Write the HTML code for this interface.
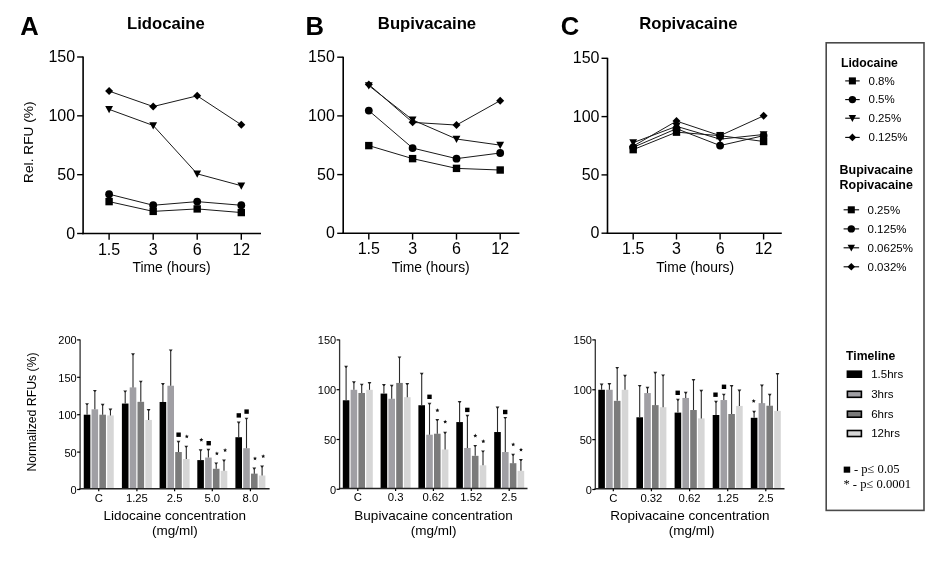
<!DOCTYPE html>
<html><head><meta charset="utf-8"><style>
html,body{margin:0;padding:0;background:#fff;width:945px;height:570px;overflow:hidden}
svg{display:block;will-change:transform}
</style></head><body>
<svg width="945" height="570" viewBox="0 0 945 570">
<rect width="945" height="570" fill="#fff"/>
<line x1="83.10" y1="56.50" x2="83.10" y2="234.30" stroke="#000" stroke-width="1.6"/>
<line x1="82.30" y1="233.50" x2="261.00" y2="233.50" stroke="#000" stroke-width="1.6"/>
<line x1="77.10" y1="233.50" x2="83.10" y2="233.50" stroke="#000" stroke-width="1.4"/>
<text x="75.10" y="238.50" font-size="16" text-anchor="end" font-weight="normal" fill="#000" font-family='"Liberation Sans", sans-serif' >0</text>
<line x1="77.10" y1="174.67" x2="83.10" y2="174.67" stroke="#000" stroke-width="1.4"/>
<text x="75.10" y="179.67" font-size="16" text-anchor="end" font-weight="normal" fill="#000" font-family='"Liberation Sans", sans-serif' >50</text>
<line x1="77.10" y1="115.83" x2="83.10" y2="115.83" stroke="#000" stroke-width="1.4"/>
<text x="75.10" y="120.83" font-size="16" text-anchor="end" font-weight="normal" fill="#000" font-family='"Liberation Sans", sans-serif' >100</text>
<line x1="77.10" y1="57.00" x2="83.10" y2="57.00" stroke="#000" stroke-width="1.4"/>
<text x="75.10" y="62.00" font-size="16" text-anchor="end" font-weight="normal" fill="#000" font-family='"Liberation Sans", sans-serif' >150</text>
<line x1="109.10" y1="233.50" x2="109.10" y2="239.80" stroke="#000" stroke-width="1.4"/>
<text x="109.10" y="254.50" font-size="16" text-anchor="middle" font-weight="normal" fill="#000" font-family='"Liberation Sans", sans-serif' >1.5</text>
<line x1="153.20" y1="233.50" x2="153.20" y2="239.80" stroke="#000" stroke-width="1.4"/>
<text x="153.20" y="254.50" font-size="16" text-anchor="middle" font-weight="normal" fill="#000" font-family='"Liberation Sans", sans-serif' >3</text>
<line x1="197.20" y1="233.50" x2="197.20" y2="239.80" stroke="#000" stroke-width="1.4"/>
<text x="197.20" y="254.50" font-size="16" text-anchor="middle" font-weight="normal" fill="#000" font-family='"Liberation Sans", sans-serif' >6</text>
<line x1="241.30" y1="233.50" x2="241.30" y2="239.80" stroke="#000" stroke-width="1.4"/>
<text x="241.30" y="254.50" font-size="16" text-anchor="middle" font-weight="normal" fill="#000" font-family='"Liberation Sans", sans-serif' >12</text>
<text x="171.55" y="272.20" font-size="13.85" text-anchor="middle" font-weight="normal" fill="#000" font-family='"Liberation Sans", sans-serif' >Time (hours)</text>
<polyline points="109.10,201.61 153.20,211.38 197.20,208.91 241.30,212.56" fill="none" stroke="#1a1a1a" stroke-width="1.0"/>
<polyline points="109.10,194.20 153.20,205.26 197.20,201.61 241.30,205.26" fill="none" stroke="#1a1a1a" stroke-width="1.0"/>
<polyline points="109.10,109.36 153.20,125.48 197.20,173.84 241.30,185.73" fill="none" stroke="#1a1a1a" stroke-width="1.0"/>
<polyline points="109.10,91.12 153.20,106.54 197.20,95.83 241.30,124.78" fill="none" stroke="#1a1a1a" stroke-width="1.0"/>
<rect x="105.40" y="197.91" width="7.40" height="7.40" fill="#000"/>
<rect x="149.50" y="207.68" width="7.40" height="7.40" fill="#000"/>
<rect x="193.50" y="205.21" width="7.40" height="7.40" fill="#000"/>
<rect x="237.60" y="208.86" width="7.40" height="7.40" fill="#000"/>
<circle cx="109.10" cy="194.20" r="3.90" fill="#000"/>
<circle cx="153.20" cy="205.26" r="3.90" fill="#000"/>
<circle cx="197.20" cy="201.61" r="3.90" fill="#000"/>
<circle cx="241.30" cy="205.26" r="3.90" fill="#000"/>
<path d="M105.20,106.06 L113.00,106.06 L109.10,113.26 Z" fill="#000"/>
<path d="M149.30,122.18 L157.10,122.18 L153.20,129.38 Z" fill="#000"/>
<path d="M193.30,170.54 L201.10,170.54 L197.20,177.74 Z" fill="#000"/>
<path d="M237.40,182.43 L245.20,182.43 L241.30,189.63 Z" fill="#000"/>
<path d="M109.10,87.12 L113.10,91.12 L109.10,95.12 L105.10,91.12 Z" fill="#000"/>
<path d="M153.20,102.54 L157.20,106.54 L153.20,110.54 L149.20,106.54 Z" fill="#000"/>
<path d="M197.20,91.83 L201.20,95.83 L197.20,99.83 L193.20,95.83 Z" fill="#000"/>
<path d="M241.30,120.78 L245.30,124.78 L241.30,128.78 L237.30,124.78 Z" fill="#000"/>
<line x1="343.20" y1="56.70" x2="343.20" y2="234.10" stroke="#000" stroke-width="1.6"/>
<line x1="342.40" y1="233.30" x2="519.40" y2="233.30" stroke="#000" stroke-width="1.6"/>
<line x1="337.20" y1="233.30" x2="343.20" y2="233.30" stroke="#000" stroke-width="1.4"/>
<text x="334.80" y="238.30" font-size="16" text-anchor="end" font-weight="normal" fill="#000" font-family='"Liberation Sans", sans-serif' >0</text>
<line x1="337.20" y1="174.60" x2="343.20" y2="174.60" stroke="#000" stroke-width="1.4"/>
<text x="334.80" y="179.60" font-size="16" text-anchor="end" font-weight="normal" fill="#000" font-family='"Liberation Sans", sans-serif' >50</text>
<line x1="337.20" y1="115.90" x2="343.20" y2="115.90" stroke="#000" stroke-width="1.4"/>
<text x="334.80" y="120.90" font-size="16" text-anchor="end" font-weight="normal" fill="#000" font-family='"Liberation Sans", sans-serif' >100</text>
<line x1="337.20" y1="57.20" x2="343.20" y2="57.20" stroke="#000" stroke-width="1.4"/>
<text x="334.80" y="62.20" font-size="16" text-anchor="end" font-weight="normal" fill="#000" font-family='"Liberation Sans", sans-serif' >150</text>
<line x1="368.80" y1="233.30" x2="368.80" y2="239.60" stroke="#000" stroke-width="1.4"/>
<text x="368.80" y="254.30" font-size="16" text-anchor="middle" font-weight="normal" fill="#000" font-family='"Liberation Sans", sans-serif' >1.5</text>
<line x1="412.60" y1="233.30" x2="412.60" y2="239.60" stroke="#000" stroke-width="1.4"/>
<text x="412.60" y="254.30" font-size="16" text-anchor="middle" font-weight="normal" fill="#000" font-family='"Liberation Sans", sans-serif' >3</text>
<line x1="456.50" y1="233.30" x2="456.50" y2="239.60" stroke="#000" stroke-width="1.4"/>
<text x="456.50" y="254.30" font-size="16" text-anchor="middle" font-weight="normal" fill="#000" font-family='"Liberation Sans", sans-serif' >6</text>
<line x1="500.20" y1="233.30" x2="500.20" y2="239.60" stroke="#000" stroke-width="1.4"/>
<text x="500.20" y="254.30" font-size="16" text-anchor="middle" font-weight="normal" fill="#000" font-family='"Liberation Sans", sans-serif' >12</text>
<text x="430.75" y="272.00" font-size="13.85" text-anchor="middle" font-weight="normal" fill="#000" font-family='"Liberation Sans", sans-serif' >Time (hours)</text>
<polyline points="368.80,145.60 412.60,158.63 456.50,168.38 500.20,170.02" fill="none" stroke="#1a1a1a" stroke-width="1.0"/>
<polyline points="368.80,110.62 412.60,148.07 456.50,158.63 500.20,153.00" fill="none" stroke="#1a1a1a" stroke-width="1.0"/>
<polyline points="368.80,85.61 412.60,119.89 456.50,139.03 500.20,145.13" fill="none" stroke="#1a1a1a" stroke-width="1.0"/>
<polyline points="368.80,84.44 412.60,122.36 456.50,125.06 500.20,100.64" fill="none" stroke="#1a1a1a" stroke-width="1.0"/>
<rect x="365.10" y="141.90" width="7.40" height="7.40" fill="#000"/>
<rect x="408.90" y="154.93" width="7.40" height="7.40" fill="#000"/>
<rect x="452.80" y="164.68" width="7.40" height="7.40" fill="#000"/>
<rect x="496.50" y="166.32" width="7.40" height="7.40" fill="#000"/>
<circle cx="368.80" cy="110.62" r="3.90" fill="#000"/>
<circle cx="412.60" cy="148.07" r="3.90" fill="#000"/>
<circle cx="456.50" cy="158.63" r="3.90" fill="#000"/>
<circle cx="500.20" cy="153.00" r="3.90" fill="#000"/>
<path d="M364.90,82.31 L372.70,82.31 L368.80,89.51 Z" fill="#000"/>
<path d="M408.70,116.59 L416.50,116.59 L412.60,123.79 Z" fill="#000"/>
<path d="M452.60,135.73 L460.40,135.73 L456.50,142.93 Z" fill="#000"/>
<path d="M496.30,141.83 L504.10,141.83 L500.20,149.03 Z" fill="#000"/>
<path d="M368.80,80.44 L372.80,84.44 L368.80,88.44 L364.80,84.44 Z" fill="#000"/>
<path d="M412.60,118.36 L416.60,122.36 L412.60,126.36 L408.60,122.36 Z" fill="#000"/>
<path d="M456.50,121.06 L460.50,125.06 L456.50,129.06 L452.50,125.06 Z" fill="#000"/>
<path d="M500.20,96.64 L504.20,100.64 L500.20,104.64 L496.20,100.64 Z" fill="#000"/>
<line x1="607.50" y1="57.80" x2="607.50" y2="234.00" stroke="#000" stroke-width="1.6"/>
<line x1="606.70" y1="233.20" x2="781.80" y2="233.20" stroke="#000" stroke-width="1.6"/>
<line x1="601.50" y1="233.20" x2="607.50" y2="233.20" stroke="#000" stroke-width="1.4"/>
<text x="599.50" y="238.20" font-size="16" text-anchor="end" font-weight="normal" fill="#000" font-family='"Liberation Sans", sans-serif' >0</text>
<line x1="601.50" y1="174.90" x2="607.50" y2="174.90" stroke="#000" stroke-width="1.4"/>
<text x="599.50" y="179.90" font-size="16" text-anchor="end" font-weight="normal" fill="#000" font-family='"Liberation Sans", sans-serif' >50</text>
<line x1="601.50" y1="116.60" x2="607.50" y2="116.60" stroke="#000" stroke-width="1.4"/>
<text x="599.50" y="121.60" font-size="16" text-anchor="end" font-weight="normal" fill="#000" font-family='"Liberation Sans", sans-serif' >100</text>
<line x1="601.50" y1="58.30" x2="607.50" y2="58.30" stroke="#000" stroke-width="1.4"/>
<text x="599.50" y="63.30" font-size="16" text-anchor="end" font-weight="normal" fill="#000" font-family='"Liberation Sans", sans-serif' >150</text>
<line x1="633.20" y1="233.20" x2="633.20" y2="239.50" stroke="#000" stroke-width="1.4"/>
<text x="633.20" y="254.20" font-size="16" text-anchor="middle" font-weight="normal" fill="#000" font-family='"Liberation Sans", sans-serif' >1.5</text>
<line x1="676.50" y1="233.20" x2="676.50" y2="239.50" stroke="#000" stroke-width="1.4"/>
<text x="676.50" y="254.20" font-size="16" text-anchor="middle" font-weight="normal" fill="#000" font-family='"Liberation Sans", sans-serif' >3</text>
<line x1="720.10" y1="233.20" x2="720.10" y2="239.50" stroke="#000" stroke-width="1.4"/>
<text x="720.10" y="254.20" font-size="16" text-anchor="middle" font-weight="normal" fill="#000" font-family='"Liberation Sans", sans-serif' >6</text>
<line x1="763.60" y1="233.20" x2="763.60" y2="239.50" stroke="#000" stroke-width="1.4"/>
<text x="763.60" y="254.20" font-size="16" text-anchor="middle" font-weight="normal" fill="#000" font-family='"Liberation Sans", sans-serif' >12</text>
<text x="695.15" y="271.90" font-size="13.85" text-anchor="middle" font-weight="normal" fill="#000" font-family='"Liberation Sans", sans-serif' >Time (hours)</text>
<polyline points="633.20,149.65 676.50,132.16 720.10,135.66 763.60,141.49" fill="none" stroke="#1a1a1a" stroke-width="1.0"/>
<polyline points="633.20,147.32 676.50,128.66 720.10,145.57 763.60,135.66" fill="none" stroke="#1a1a1a" stroke-width="1.0"/>
<polyline points="633.20,142.65 676.50,126.33 720.10,139.15 763.60,134.49" fill="none" stroke="#1a1a1a" stroke-width="1.0"/>
<polyline points="633.20,146.15 676.50,121.08 720.10,135.66 763.60,115.83" fill="none" stroke="#1a1a1a" stroke-width="1.0"/>
<rect x="629.50" y="145.95" width="7.40" height="7.40" fill="#000"/>
<rect x="672.80" y="128.46" width="7.40" height="7.40" fill="#000"/>
<rect x="716.40" y="131.96" width="7.40" height="7.40" fill="#000"/>
<rect x="759.90" y="137.79" width="7.40" height="7.40" fill="#000"/>
<circle cx="633.20" cy="147.32" r="3.90" fill="#000"/>
<circle cx="676.50" cy="128.66" r="3.90" fill="#000"/>
<circle cx="720.10" cy="145.57" r="3.90" fill="#000"/>
<circle cx="763.60" cy="135.66" r="3.90" fill="#000"/>
<path d="M629.30,139.35 L637.10,139.35 L633.20,146.55 Z" fill="#000"/>
<path d="M672.60,123.03 L680.40,123.03 L676.50,130.23 Z" fill="#000"/>
<path d="M716.20,135.85 L724.00,135.85 L720.10,143.05 Z" fill="#000"/>
<path d="M759.70,131.19 L767.50,131.19 L763.60,138.39 Z" fill="#000"/>
<path d="M633.20,142.15 L637.20,146.15 L633.20,150.15 L629.20,146.15 Z" fill="#000"/>
<path d="M676.50,117.08 L680.50,121.08 L676.50,125.08 L672.50,121.08 Z" fill="#000"/>
<path d="M720.10,131.66 L724.10,135.66 L720.10,139.66 L716.10,135.66 Z" fill="#000"/>
<path d="M763.60,111.83 L767.60,115.83 L763.60,119.83 L759.60,115.83 Z" fill="#000"/>
<text transform="translate(33.4,142.2) rotate(-90)" font-size="13.7" text-anchor="middle" font-family='"Liberation Sans", sans-serif'>Rel. RFU (%)</text>
<text x="20.20" y="34.50" font-size="25.6" text-anchor="start" font-weight="bold" fill="#000" font-family='"Liberation Sans", sans-serif' >A</text>
<text x="305.60" y="34.50" font-size="25.6" text-anchor="start" font-weight="bold" fill="#000" font-family='"Liberation Sans", sans-serif' >B</text>
<text x="560.80" y="34.70" font-size="25.6" text-anchor="start" font-weight="bold" fill="#000" font-family='"Liberation Sans", sans-serif' >C</text>
<text x="165.90" y="28.50" font-size="16.7" text-anchor="middle" font-weight="bold" fill="#000" font-family='"Liberation Sans", sans-serif' >Lidocaine</text>
<text x="427.00" y="28.50" font-size="16.7" text-anchor="middle" font-weight="bold" fill="#000" font-family='"Liberation Sans", sans-serif' >Bupivacaine</text>
<text x="688.30" y="28.50" font-size="16.7" text-anchor="middle" font-weight="bold" fill="#000" font-family='"Liberation Sans", sans-serif' >Ropivacaine</text>
<rect x="83.75" y="414.70" width="6.60" height="74.00" fill="#000000"/>
<line x1="87.05" y1="403.95" x2="87.05" y2="414.70" stroke="#2a2a2a" stroke-width="1.1"/>
<path d="M85.15,403.15 L88.95,403.15 L87.65,405.05 L86.45,405.05 Z" fill="#222"/>
<rect x="91.55" y="409.31" width="6.60" height="79.39" fill="#a09fa4"/>
<line x1="94.85" y1="390.72" x2="94.85" y2="409.31" stroke="#2a2a2a" stroke-width="1.1"/>
<path d="M92.95,389.92 L96.75,389.92 L95.45,391.82 L94.25,391.82 Z" fill="#222"/>
<rect x="99.35" y="414.70" width="6.60" height="74.00" fill="#7b7b7b"/>
<line x1="102.65" y1="404.63" x2="102.65" y2="414.70" stroke="#2a2a2a" stroke-width="1.1"/>
<path d="M100.75,403.83 L104.55,403.83 L103.25,405.73 L102.05,405.73 Z" fill="#222"/>
<rect x="107.15" y="415.45" width="6.60" height="73.25" fill="#d6d6d6"/>
<line x1="110.45" y1="409.34" x2="110.45" y2="415.45" stroke="#2a2a2a" stroke-width="1.1"/>
<path d="M108.55,408.54 L112.35,408.54 L111.05,410.44 L109.85,410.44 Z" fill="#222"/>
<rect x="121.90" y="403.55" width="6.60" height="85.15" fill="#000000"/>
<line x1="125.20" y1="391.24" x2="125.20" y2="403.55" stroke="#2a2a2a" stroke-width="1.1"/>
<path d="M123.30,390.44 L127.10,390.44 L125.80,392.34 L124.60,392.34 Z" fill="#222"/>
<rect x="129.70" y="387.40" width="6.60" height="101.30" fill="#a09fa4"/>
<line x1="133.00" y1="354.14" x2="133.00" y2="387.40" stroke="#2a2a2a" stroke-width="1.1"/>
<path d="M131.10,353.34 L134.90,353.34 L133.60,355.24 L132.40,355.24 Z" fill="#222"/>
<rect x="137.50" y="401.83" width="6.60" height="86.87" fill="#7b7b7b"/>
<line x1="140.80" y1="381.44" x2="140.80" y2="401.83" stroke="#2a2a2a" stroke-width="1.1"/>
<path d="M138.90,380.64 L142.70,380.64 L141.40,382.54 L140.20,382.54 Z" fill="#222"/>
<rect x="145.30" y="419.94" width="6.60" height="68.76" fill="#d6d6d6"/>
<line x1="148.60" y1="409.86" x2="148.60" y2="419.94" stroke="#2a2a2a" stroke-width="1.1"/>
<path d="M146.70,409.06 L150.50,409.06 L149.20,410.96 L148.00,410.96 Z" fill="#222"/>
<rect x="159.60" y="401.98" width="6.60" height="86.72" fill="#000000"/>
<line x1="162.90" y1="383.91" x2="162.90" y2="401.98" stroke="#2a2a2a" stroke-width="1.1"/>
<path d="M161.00,383.11 L164.80,383.11 L163.50,385.01 L162.30,385.01 Z" fill="#222"/>
<rect x="167.40" y="385.75" width="6.60" height="102.95" fill="#a09fa4"/>
<line x1="170.70" y1="350.25" x2="170.70" y2="385.75" stroke="#2a2a2a" stroke-width="1.1"/>
<path d="M168.80,349.45 L172.60,349.45 L171.30,351.35 L170.10,351.35 Z" fill="#222"/>
<rect x="175.20" y="452.03" width="6.60" height="36.67" fill="#7b7b7b"/>
<line x1="178.50" y1="441.65" x2="178.50" y2="452.03" stroke="#2a2a2a" stroke-width="1.1"/>
<path d="M176.60,440.85 L180.40,440.85 L179.10,442.75 L177.90,442.75 Z" fill="#222"/>
<rect x="183.00" y="458.98" width="6.60" height="29.72" fill="#d6d6d6"/>
<line x1="186.30" y1="446.44" x2="186.30" y2="458.98" stroke="#2a2a2a" stroke-width="1.1"/>
<path d="M184.40,445.64 L188.20,445.64 L186.90,447.54 L185.70,447.54 Z" fill="#222"/>
<rect x="197.30" y="460.10" width="6.60" height="28.60" fill="#000000"/>
<line x1="200.60" y1="450.03" x2="200.60" y2="460.10" stroke="#2a2a2a" stroke-width="1.1"/>
<path d="M198.70,449.23 L202.50,449.23 L201.20,451.13 L200.00,451.13 Z" fill="#222"/>
<rect x="205.10" y="457.56" width="6.60" height="31.14" fill="#a09fa4"/>
<line x1="208.40" y1="449.58" x2="208.40" y2="457.56" stroke="#2a2a2a" stroke-width="1.1"/>
<path d="M206.50,448.78 L210.30,448.78 L209.00,450.68 L207.80,450.68 Z" fill="#222"/>
<rect x="212.90" y="468.78" width="6.60" height="19.92" fill="#7b7b7b"/>
<line x1="216.20" y1="463.27" x2="216.20" y2="468.78" stroke="#2a2a2a" stroke-width="1.1"/>
<path d="M214.30,462.47 L218.10,462.47 L216.80,464.37 L215.60,464.37 Z" fill="#222"/>
<rect x="220.70" y="470.87" width="6.60" height="17.83" fill="#d6d6d6"/>
<line x1="224.00" y1="460.35" x2="224.00" y2="470.87" stroke="#2a2a2a" stroke-width="1.1"/>
<path d="M222.10,459.55 L225.90,459.55 L224.60,461.45 L223.40,461.45 Z" fill="#222"/>
<rect x="235.40" y="437.21" width="6.60" height="51.49" fill="#000000"/>
<line x1="238.70" y1="422.28" x2="238.70" y2="437.21" stroke="#2a2a2a" stroke-width="1.1"/>
<path d="M236.80,421.48 L240.60,421.48 L239.30,423.38 L238.10,423.38 Z" fill="#222"/>
<rect x="243.20" y="448.21" width="6.60" height="40.49" fill="#a09fa4"/>
<line x1="246.50" y1="418.47" x2="246.50" y2="448.21" stroke="#2a2a2a" stroke-width="1.1"/>
<path d="M244.60,417.67 L248.40,417.67 L247.10,419.57 L245.90,419.57 Z" fill="#222"/>
<rect x="251.00" y="473.64" width="6.60" height="15.06" fill="#7b7b7b"/>
<line x1="254.30" y1="468.28" x2="254.30" y2="473.64" stroke="#2a2a2a" stroke-width="1.1"/>
<path d="M252.40,467.48 L256.20,467.48 L254.90,469.38 L253.70,469.38 Z" fill="#222"/>
<rect x="258.80" y="475.51" width="6.60" height="13.19" fill="#d6d6d6"/>
<line x1="262.10" y1="466.34" x2="262.10" y2="475.51" stroke="#2a2a2a" stroke-width="1.1"/>
<path d="M260.20,465.54 L264.00,465.54 L262.70,467.44 L261.50,467.44 Z" fill="#222"/>
<line x1="80.10" y1="339.60" x2="80.10" y2="489.40" stroke="#333" stroke-width="1.3"/>
<line x1="79.40" y1="488.70" x2="269.60" y2="488.70" stroke="#222" stroke-width="1.4"/>
<line x1="77.10" y1="489.50" x2="80.10" y2="489.50" stroke="#000" stroke-width="1.2"/>
<text x="76.70" y="494.00" font-size="11" text-anchor="end" font-weight="normal" fill="#000" font-family='"Liberation Sans", sans-serif' >0</text>
<line x1="77.10" y1="452.10" x2="80.10" y2="452.10" stroke="#000" stroke-width="1.2"/>
<text x="76.70" y="456.60" font-size="11" text-anchor="end" font-weight="normal" fill="#000" font-family='"Liberation Sans", sans-serif' >50</text>
<line x1="77.10" y1="414.70" x2="80.10" y2="414.70" stroke="#000" stroke-width="1.2"/>
<text x="76.70" y="419.20" font-size="11" text-anchor="end" font-weight="normal" fill="#000" font-family='"Liberation Sans", sans-serif' >100</text>
<line x1="77.10" y1="377.30" x2="80.10" y2="377.30" stroke="#000" stroke-width="1.2"/>
<text x="76.70" y="381.80" font-size="11" text-anchor="end" font-weight="normal" fill="#000" font-family='"Liberation Sans", sans-serif' >150</text>
<line x1="77.10" y1="339.90" x2="80.10" y2="339.90" stroke="#000" stroke-width="1.2"/>
<text x="76.70" y="344.40" font-size="11" text-anchor="end" font-weight="normal" fill="#000" font-family='"Liberation Sans", sans-serif' >200</text>
<line x1="98.75" y1="488.70" x2="98.75" y2="491.30" stroke="#000" stroke-width="1.2"/>
<text x="98.75" y="501.60" font-size="11.3" text-anchor="middle" font-weight="normal" fill="#000" font-family='"Liberation Sans", sans-serif' >C</text>
<line x1="136.90" y1="488.70" x2="136.90" y2="491.30" stroke="#000" stroke-width="1.2"/>
<text x="136.90" y="501.60" font-size="11.3" text-anchor="middle" font-weight="normal" fill="#000" font-family='"Liberation Sans", sans-serif' >1.25</text>
<line x1="174.60" y1="488.70" x2="174.60" y2="491.30" stroke="#000" stroke-width="1.2"/>
<text x="174.60" y="501.60" font-size="11.3" text-anchor="middle" font-weight="normal" fill="#000" font-family='"Liberation Sans", sans-serif' >2.5</text>
<line x1="212.30" y1="488.70" x2="212.30" y2="491.30" stroke="#000" stroke-width="1.2"/>
<text x="212.30" y="501.60" font-size="11.3" text-anchor="middle" font-weight="normal" fill="#000" font-family='"Liberation Sans", sans-serif' >5.0</text>
<line x1="250.40" y1="488.70" x2="250.40" y2="491.30" stroke="#000" stroke-width="1.2"/>
<text x="250.40" y="501.60" font-size="11.3" text-anchor="middle" font-weight="normal" fill="#000" font-family='"Liberation Sans", sans-serif' >8.0</text>
<text x="174.85" y="519.70" font-size="13.5" text-anchor="middle" font-weight="normal" fill="#000" font-family='"Liberation Sans", sans-serif' >Lidocaine concentration</text>
<text x="174.85" y="535.10" font-size="13.5" text-anchor="middle" font-weight="normal" fill="#000" font-family='"Liberation Sans", sans-serif' >(mg/ml)</text>
<rect x="176.40" y="432.50" width="4.4" height="4.4" fill="#000"/>
<polygon points="186.80,434.40 187.39,435.69 188.80,435.85 187.75,436.81 188.03,438.20 186.80,437.50 185.57,438.20 185.85,436.81 184.80,435.85 186.21,435.69" fill="#111"/>
<polygon points="201.30,437.80 201.89,439.09 203.30,439.25 202.25,440.21 202.53,441.60 201.30,440.90 200.07,441.60 200.35,440.21 199.30,439.25 200.71,439.09" fill="#111"/>
<rect x="206.50" y="441.00" width="4.4" height="4.4" fill="#000"/>
<polygon points="216.90,451.40 217.49,452.69 218.90,452.85 217.85,453.81 218.13,455.20 216.90,454.50 215.67,455.20 215.95,453.81 214.90,452.85 216.31,452.69" fill="#111"/>
<polygon points="225.10,448.10 225.69,449.39 227.10,449.55 226.05,450.51 226.33,451.90 225.10,451.20 223.87,451.90 224.15,450.51 223.10,449.55 224.51,449.39" fill="#111"/>
<rect x="236.60" y="413.20" width="4.4" height="4.4" fill="#000"/>
<rect x="244.40" y="409.40" width="4.4" height="4.4" fill="#000"/>
<polygon points="255.00,456.40 255.59,457.69 257.00,457.85 255.95,458.81 256.23,460.20 255.00,459.50 253.77,460.20 254.05,458.81 253.00,457.85 254.41,457.69" fill="#111"/>
<polygon points="263.20,454.20 263.79,455.49 265.20,455.65 264.15,456.61 264.43,458.00 263.20,457.30 261.97,458.00 262.25,456.61 261.20,455.65 262.61,455.49" fill="#111"/>
<rect x="342.80" y="400.26" width="6.60" height="88.24" fill="#000000"/>
<line x1="346.10" y1="366.59" x2="346.10" y2="400.26" stroke="#2a2a2a" stroke-width="1.1"/>
<path d="M344.20,365.79 L348.00,365.79 L346.70,367.69 L345.50,367.69 Z" fill="#222"/>
<rect x="350.60" y="389.80" width="6.60" height="98.70" fill="#a09fa4"/>
<line x1="353.90" y1="382.13" x2="353.90" y2="389.80" stroke="#2a2a2a" stroke-width="1.1"/>
<path d="M352.00,381.33 L355.80,381.33 L354.50,383.23 L353.30,383.23 Z" fill="#222"/>
<rect x="358.40" y="392.99" width="6.60" height="95.51" fill="#7b7b7b"/>
<line x1="361.70" y1="384.52" x2="361.70" y2="392.99" stroke="#2a2a2a" stroke-width="1.1"/>
<path d="M359.80,383.72 L363.60,383.72 L362.30,385.62 L361.10,385.62 Z" fill="#222"/>
<rect x="366.20" y="389.80" width="6.60" height="98.70" fill="#d6d6d6"/>
<line x1="369.50" y1="382.83" x2="369.50" y2="389.80" stroke="#2a2a2a" stroke-width="1.1"/>
<path d="M367.60,382.03 L371.40,382.03 L370.10,383.93 L368.90,383.93 Z" fill="#222"/>
<rect x="380.60" y="393.58" width="6.60" height="94.92" fill="#000000"/>
<line x1="383.90" y1="384.92" x2="383.90" y2="393.58" stroke="#2a2a2a" stroke-width="1.1"/>
<path d="M382.00,384.12 L385.80,384.12 L384.50,386.02 L383.30,386.02 Z" fill="#222"/>
<rect x="388.40" y="398.76" width="6.60" height="89.74" fill="#a09fa4"/>
<line x1="391.70" y1="385.62" x2="391.70" y2="398.76" stroke="#2a2a2a" stroke-width="1.1"/>
<path d="M389.80,384.82 L393.60,384.82 L392.30,386.72 L391.10,386.72 Z" fill="#222"/>
<rect x="396.20" y="382.93" width="6.60" height="105.57" fill="#7b7b7b"/>
<line x1="399.50" y1="357.23" x2="399.50" y2="382.93" stroke="#2a2a2a" stroke-width="1.1"/>
<path d="M397.60,356.43 L401.40,356.43 L400.10,358.33 L398.90,358.33 Z" fill="#222"/>
<rect x="404.00" y="397.17" width="6.60" height="91.33" fill="#d6d6d6"/>
<line x1="407.30" y1="383.92" x2="407.30" y2="397.17" stroke="#2a2a2a" stroke-width="1.1"/>
<path d="M405.40,383.12 L409.20,383.12 L407.90,385.02 L406.70,385.02 Z" fill="#222"/>
<rect x="418.40" y="405.24" width="6.60" height="83.26" fill="#000000"/>
<line x1="421.70" y1="373.57" x2="421.70" y2="405.24" stroke="#2a2a2a" stroke-width="1.1"/>
<path d="M419.80,372.77 L423.60,372.77 L422.30,374.67 L421.10,374.67 Z" fill="#222"/>
<rect x="426.20" y="434.72" width="6.60" height="53.78" fill="#a09fa4"/>
<line x1="429.50" y1="403.65" x2="429.50" y2="434.72" stroke="#2a2a2a" stroke-width="1.1"/>
<path d="M427.60,402.85 L431.40,402.85 L430.10,404.75 L428.90,404.75 Z" fill="#222"/>
<rect x="434.00" y="433.72" width="6.60" height="54.78" fill="#7b7b7b"/>
<line x1="437.30" y1="419.78" x2="437.30" y2="433.72" stroke="#2a2a2a" stroke-width="1.1"/>
<path d="M435.40,418.98 L439.20,418.98 L437.90,420.88 L436.70,420.88 Z" fill="#222"/>
<rect x="441.80" y="449.46" width="6.60" height="39.04" fill="#d6d6d6"/>
<line x1="445.10" y1="432.63" x2="445.10" y2="449.46" stroke="#2a2a2a" stroke-width="1.1"/>
<path d="M443.20,431.83 L447.00,431.83 L445.70,433.73 L444.50,433.73 Z" fill="#222"/>
<rect x="456.30" y="422.07" width="6.60" height="66.43" fill="#000000"/>
<line x1="459.60" y1="401.85" x2="459.60" y2="422.07" stroke="#2a2a2a" stroke-width="1.1"/>
<path d="M457.70,401.05 L461.50,401.05 L460.20,402.95 L459.00,402.95 Z" fill="#222"/>
<rect x="464.10" y="447.97" width="6.60" height="40.53" fill="#a09fa4"/>
<line x1="467.40" y1="415.60" x2="467.40" y2="447.97" stroke="#2a2a2a" stroke-width="1.1"/>
<path d="M465.50,414.80 L469.30,414.80 L468.00,416.70 L466.80,416.70 Z" fill="#222"/>
<rect x="471.90" y="455.83" width="6.60" height="32.67" fill="#7b7b7b"/>
<line x1="475.20" y1="445.68" x2="475.20" y2="455.83" stroke="#2a2a2a" stroke-width="1.1"/>
<path d="M473.30,444.88 L477.10,444.88 L475.80,446.78 L474.60,446.78 Z" fill="#222"/>
<rect x="479.70" y="465.30" width="6.60" height="23.20" fill="#d6d6d6"/>
<line x1="483.00" y1="451.25" x2="483.00" y2="465.30" stroke="#2a2a2a" stroke-width="1.1"/>
<path d="M481.10,450.45 L484.90,450.45 L483.60,452.35 L482.40,452.35 Z" fill="#222"/>
<rect x="494.20" y="432.03" width="6.60" height="56.47" fill="#000000"/>
<line x1="497.50" y1="407.33" x2="497.50" y2="432.03" stroke="#2a2a2a" stroke-width="1.1"/>
<path d="M495.60,406.53 L499.40,406.53 L498.10,408.43 L496.90,408.43 Z" fill="#222"/>
<rect x="502.00" y="452.05" width="6.60" height="36.45" fill="#a09fa4"/>
<line x1="505.30" y1="417.69" x2="505.30" y2="452.05" stroke="#2a2a2a" stroke-width="1.1"/>
<path d="M503.40,416.89 L507.20,416.89 L505.90,418.79 L504.70,418.79 Z" fill="#222"/>
<rect x="509.80" y="463.20" width="6.60" height="25.30" fill="#7b7b7b"/>
<line x1="513.10" y1="454.54" x2="513.10" y2="463.20" stroke="#2a2a2a" stroke-width="1.1"/>
<path d="M511.20,453.74 L515.00,453.74 L513.70,455.64 L512.50,455.64 Z" fill="#222"/>
<rect x="517.60" y="470.87" width="6.60" height="17.63" fill="#d6d6d6"/>
<line x1="520.90" y1="459.82" x2="520.90" y2="470.87" stroke="#2a2a2a" stroke-width="1.1"/>
<path d="M519.00,459.02 L522.80,459.02 L521.50,460.92 L520.30,460.92 Z" fill="#222"/>
<line x1="339.60" y1="339.60" x2="339.60" y2="489.20" stroke="#333" stroke-width="1.3"/>
<line x1="338.90" y1="488.50" x2="527.50" y2="488.50" stroke="#222" stroke-width="1.4"/>
<line x1="336.60" y1="489.30" x2="339.60" y2="489.30" stroke="#000" stroke-width="1.2"/>
<text x="336.20" y="493.80" font-size="11" text-anchor="end" font-weight="normal" fill="#000" font-family='"Liberation Sans", sans-serif' >0</text>
<line x1="336.60" y1="439.50" x2="339.60" y2="439.50" stroke="#000" stroke-width="1.2"/>
<text x="336.20" y="444.00" font-size="11" text-anchor="end" font-weight="normal" fill="#000" font-family='"Liberation Sans", sans-serif' >50</text>
<line x1="336.60" y1="389.70" x2="339.60" y2="389.70" stroke="#000" stroke-width="1.2"/>
<text x="336.20" y="394.20" font-size="11" text-anchor="end" font-weight="normal" fill="#000" font-family='"Liberation Sans", sans-serif' >100</text>
<line x1="336.60" y1="339.90" x2="339.60" y2="339.90" stroke="#000" stroke-width="1.2"/>
<text x="336.20" y="344.40" font-size="11" text-anchor="end" font-weight="normal" fill="#000" font-family='"Liberation Sans", sans-serif' >150</text>
<line x1="357.80" y1="488.50" x2="357.80" y2="491.10" stroke="#000" stroke-width="1.2"/>
<text x="357.80" y="501.40" font-size="11.3" text-anchor="middle" font-weight="normal" fill="#000" font-family='"Liberation Sans", sans-serif' >C</text>
<line x1="395.60" y1="488.50" x2="395.60" y2="491.10" stroke="#000" stroke-width="1.2"/>
<text x="395.60" y="501.40" font-size="11.3" text-anchor="middle" font-weight="normal" fill="#000" font-family='"Liberation Sans", sans-serif' >0.3</text>
<line x1="433.40" y1="488.50" x2="433.40" y2="491.10" stroke="#000" stroke-width="1.2"/>
<text x="433.40" y="501.40" font-size="11.3" text-anchor="middle" font-weight="normal" fill="#000" font-family='"Liberation Sans", sans-serif' >0.62</text>
<line x1="471.30" y1="488.50" x2="471.30" y2="491.10" stroke="#000" stroke-width="1.2"/>
<text x="471.30" y="501.40" font-size="11.3" text-anchor="middle" font-weight="normal" fill="#000" font-family='"Liberation Sans", sans-serif' >1.52</text>
<line x1="509.20" y1="488.50" x2="509.20" y2="491.10" stroke="#000" stroke-width="1.2"/>
<text x="509.20" y="501.40" font-size="11.3" text-anchor="middle" font-weight="normal" fill="#000" font-family='"Liberation Sans", sans-serif' >2.5</text>
<text x="433.55" y="519.50" font-size="13.5" text-anchor="middle" font-weight="normal" fill="#000" font-family='"Liberation Sans", sans-serif' >Bupivacaine concentration</text>
<text x="433.55" y="534.90" font-size="13.5" text-anchor="middle" font-weight="normal" fill="#000" font-family='"Liberation Sans", sans-serif' >(mg/ml)</text>
<rect x="427.30" y="394.60" width="4.4" height="4.4" fill="#000"/>
<polygon points="437.40,408.30 437.99,409.59 439.40,409.75 438.35,410.71 438.63,412.10 437.40,411.40 436.17,412.10 436.45,410.71 435.40,409.75 436.81,409.59" fill="#111"/>
<polygon points="445.20,419.70 445.79,420.99 447.20,421.15 446.15,422.11 446.43,423.50 445.20,422.80 443.97,423.50 444.25,422.11 443.20,421.15 444.61,420.99" fill="#111"/>
<rect x="465.10" y="407.70" width="4.4" height="4.4" fill="#000"/>
<polygon points="475.30,433.60 475.89,434.89 477.30,435.05 476.25,436.01 476.53,437.40 475.30,436.70 474.07,437.40 474.35,436.01 473.30,435.05 474.71,434.89" fill="#111"/>
<polygon points="483.30,439.30 483.89,440.59 485.30,440.75 484.25,441.71 484.53,443.10 483.30,442.40 482.07,443.10 482.35,441.71 481.30,440.75 482.71,440.59" fill="#111"/>
<rect x="503.00" y="409.80" width="4.4" height="4.4" fill="#000"/>
<polygon points="513.20,442.40 513.79,443.69 515.20,443.85 514.15,444.81 514.43,446.20 513.20,445.50 511.97,446.20 512.25,444.81 511.20,443.85 512.61,443.69" fill="#111"/>
<polygon points="521.00,447.70 521.59,448.99 523.00,449.15 521.95,450.11 522.23,451.50 521.00,450.80 519.77,451.50 520.05,450.11 519.00,449.15 520.41,448.99" fill="#111"/>
<rect x="598.30" y="389.77" width="6.60" height="98.93" fill="#000000"/>
<line x1="601.60" y1="384.28" x2="601.60" y2="389.77" stroke="#2a2a2a" stroke-width="1.1"/>
<path d="M599.70,383.48 L603.50,383.48 L602.20,385.38 L601.00,385.38 Z" fill="#222"/>
<rect x="606.10" y="389.77" width="6.60" height="98.93" fill="#a09fa4"/>
<line x1="609.40" y1="383.88" x2="609.40" y2="389.77" stroke="#2a2a2a" stroke-width="1.1"/>
<path d="M607.50,383.08 L611.30,383.08 L610.00,384.98 L608.80,384.98 Z" fill="#222"/>
<rect x="613.90" y="400.84" width="6.60" height="87.86" fill="#7b7b7b"/>
<line x1="617.20" y1="367.73" x2="617.20" y2="400.84" stroke="#2a2a2a" stroke-width="1.1"/>
<path d="M615.30,366.93 L619.10,366.93 L617.80,368.83 L616.60,368.83 Z" fill="#222"/>
<rect x="621.70" y="389.77" width="6.60" height="98.93" fill="#d6d6d6"/>
<line x1="625.00" y1="375.61" x2="625.00" y2="389.77" stroke="#2a2a2a" stroke-width="1.1"/>
<path d="M623.10,374.81 L626.90,374.81 L625.60,376.71 L624.40,376.71 Z" fill="#222"/>
<rect x="636.40" y="417.29" width="6.60" height="71.41" fill="#000000"/>
<line x1="639.70" y1="385.68" x2="639.70" y2="417.29" stroke="#2a2a2a" stroke-width="1.1"/>
<path d="M637.80,384.88 L641.60,384.88 L640.30,386.78 L639.10,386.78 Z" fill="#222"/>
<rect x="644.20" y="393.06" width="6.60" height="95.64" fill="#a09fa4"/>
<line x1="647.50" y1="387.57" x2="647.50" y2="393.06" stroke="#2a2a2a" stroke-width="1.1"/>
<path d="M645.60,386.77 L649.40,386.77 L648.10,388.67 L646.90,388.67 Z" fill="#222"/>
<rect x="652.00" y="405.13" width="6.60" height="83.57" fill="#7b7b7b"/>
<line x1="655.30" y1="372.61" x2="655.30" y2="405.13" stroke="#2a2a2a" stroke-width="1.1"/>
<path d="M653.40,371.81 L657.20,371.81 L655.90,373.71 L654.70,373.71 Z" fill="#222"/>
<rect x="659.80" y="407.22" width="6.60" height="81.48" fill="#d6d6d6"/>
<line x1="663.10" y1="375.21" x2="663.10" y2="407.22" stroke="#2a2a2a" stroke-width="1.1"/>
<path d="M661.20,374.41 L665.00,374.41 L663.70,376.31 L662.50,376.31 Z" fill="#222"/>
<rect x="674.60" y="412.61" width="6.60" height="76.09" fill="#000000"/>
<line x1="677.90" y1="399.64" x2="677.90" y2="412.61" stroke="#2a2a2a" stroke-width="1.1"/>
<path d="M676.00,398.84 L679.80,398.84 L678.50,400.74 L677.30,400.74 Z" fill="#222"/>
<rect x="682.40" y="397.94" width="6.60" height="90.76" fill="#a09fa4"/>
<line x1="685.70" y1="392.56" x2="685.70" y2="397.94" stroke="#2a2a2a" stroke-width="1.1"/>
<path d="M683.80,391.76 L687.60,391.76 L686.30,393.66 L685.10,393.66 Z" fill="#222"/>
<rect x="690.20" y="410.01" width="6.60" height="78.69" fill="#7b7b7b"/>
<line x1="693.50" y1="379.89" x2="693.50" y2="410.01" stroke="#2a2a2a" stroke-width="1.1"/>
<path d="M691.60,379.09 L695.40,379.09 L694.10,380.99 L692.90,380.99 Z" fill="#222"/>
<rect x="698.00" y="418.39" width="6.60" height="70.31" fill="#d6d6d6"/>
<line x1="701.30" y1="390.57" x2="701.30" y2="418.39" stroke="#2a2a2a" stroke-width="1.1"/>
<path d="M699.40,389.77 L703.20,389.77 L701.90,391.67 L700.70,391.67 Z" fill="#222"/>
<rect x="712.70" y="415.00" width="6.60" height="73.70" fill="#000000"/>
<line x1="716.00" y1="401.64" x2="716.00" y2="415.00" stroke="#2a2a2a" stroke-width="1.1"/>
<path d="M714.10,400.84 L717.90,400.84 L716.60,402.74 L715.40,402.74 Z" fill="#222"/>
<rect x="720.50" y="400.04" width="6.60" height="88.66" fill="#a09fa4"/>
<line x1="723.80" y1="394.46" x2="723.80" y2="400.04" stroke="#2a2a2a" stroke-width="1.1"/>
<path d="M721.90,393.66 L725.70,393.66 L724.40,395.56 L723.20,395.56 Z" fill="#222"/>
<rect x="728.30" y="414.00" width="6.60" height="74.70" fill="#7b7b7b"/>
<line x1="731.60" y1="385.78" x2="731.60" y2="414.00" stroke="#2a2a2a" stroke-width="1.1"/>
<path d="M729.70,384.98 L733.50,384.98 L732.20,386.88 L731.00,386.88 Z" fill="#222"/>
<rect x="736.10" y="405.92" width="6.60" height="82.78" fill="#d6d6d6"/>
<line x1="739.40" y1="390.37" x2="739.40" y2="405.92" stroke="#2a2a2a" stroke-width="1.1"/>
<path d="M737.50,389.57 L741.30,389.57 L740.00,391.47 L738.80,391.47 Z" fill="#222"/>
<rect x="750.80" y="417.79" width="6.60" height="70.91" fill="#000000"/>
<line x1="754.10" y1="411.61" x2="754.10" y2="417.79" stroke="#2a2a2a" stroke-width="1.1"/>
<path d="M752.20,410.81 L756.00,410.81 L754.70,412.71 L753.50,412.71 Z" fill="#222"/>
<rect x="758.60" y="403.13" width="6.60" height="85.57" fill="#a09fa4"/>
<line x1="761.90" y1="385.28" x2="761.90" y2="403.13" stroke="#2a2a2a" stroke-width="1.1"/>
<path d="M760.00,384.48 L763.80,384.48 L762.50,386.38 L761.30,386.38 Z" fill="#222"/>
<rect x="766.40" y="405.72" width="6.60" height="82.98" fill="#7b7b7b"/>
<line x1="769.70" y1="394.55" x2="769.70" y2="405.72" stroke="#2a2a2a" stroke-width="1.1"/>
<path d="M767.80,393.75 L771.60,393.75 L770.30,395.65 L769.10,395.65 Z" fill="#222"/>
<rect x="774.20" y="410.91" width="6.60" height="77.79" fill="#d6d6d6"/>
<line x1="777.50" y1="373.91" x2="777.50" y2="410.91" stroke="#2a2a2a" stroke-width="1.1"/>
<path d="M775.60,373.11 L779.40,373.11 L778.10,375.01 L776.90,375.01 Z" fill="#222"/>
<line x1="595.30" y1="339.60" x2="595.30" y2="489.40" stroke="#333" stroke-width="1.3"/>
<line x1="594.60" y1="488.70" x2="784.50" y2="488.70" stroke="#222" stroke-width="1.4"/>
<line x1="592.30" y1="489.50" x2="595.30" y2="489.50" stroke="#000" stroke-width="1.2"/>
<text x="591.90" y="494.00" font-size="11" text-anchor="end" font-weight="normal" fill="#000" font-family='"Liberation Sans", sans-serif' >0</text>
<line x1="592.30" y1="439.63" x2="595.30" y2="439.63" stroke="#000" stroke-width="1.2"/>
<text x="591.90" y="444.13" font-size="11" text-anchor="end" font-weight="normal" fill="#000" font-family='"Liberation Sans", sans-serif' >50</text>
<line x1="592.30" y1="389.77" x2="595.30" y2="389.77" stroke="#000" stroke-width="1.2"/>
<text x="591.90" y="394.27" font-size="11" text-anchor="end" font-weight="normal" fill="#000" font-family='"Liberation Sans", sans-serif' >100</text>
<line x1="592.30" y1="339.90" x2="595.30" y2="339.90" stroke="#000" stroke-width="1.2"/>
<text x="591.90" y="344.40" font-size="11" text-anchor="end" font-weight="normal" fill="#000" font-family='"Liberation Sans", sans-serif' >150</text>
<line x1="613.30" y1="488.70" x2="613.30" y2="491.30" stroke="#000" stroke-width="1.2"/>
<text x="613.30" y="501.60" font-size="11.3" text-anchor="middle" font-weight="normal" fill="#000" font-family='"Liberation Sans", sans-serif' >C</text>
<line x1="651.40" y1="488.70" x2="651.40" y2="491.30" stroke="#000" stroke-width="1.2"/>
<text x="651.40" y="501.60" font-size="11.3" text-anchor="middle" font-weight="normal" fill="#000" font-family='"Liberation Sans", sans-serif' >0.32</text>
<line x1="689.60" y1="488.70" x2="689.60" y2="491.30" stroke="#000" stroke-width="1.2"/>
<text x="689.60" y="501.60" font-size="11.3" text-anchor="middle" font-weight="normal" fill="#000" font-family='"Liberation Sans", sans-serif' >0.62</text>
<line x1="727.70" y1="488.70" x2="727.70" y2="491.30" stroke="#000" stroke-width="1.2"/>
<text x="727.70" y="501.60" font-size="11.3" text-anchor="middle" font-weight="normal" fill="#000" font-family='"Liberation Sans", sans-serif' >1.25</text>
<line x1="765.80" y1="488.70" x2="765.80" y2="491.30" stroke="#000" stroke-width="1.2"/>
<text x="765.80" y="501.60" font-size="11.3" text-anchor="middle" font-weight="normal" fill="#000" font-family='"Liberation Sans", sans-serif' >2.5</text>
<text x="689.90" y="519.70" font-size="13.5" text-anchor="middle" font-weight="normal" fill="#000" font-family='"Liberation Sans", sans-serif' >Ropivacaine concentration</text>
<text x="691.70" y="535.10" font-size="13.5" text-anchor="middle" font-weight="normal" fill="#000" font-family='"Liberation Sans", sans-serif' >(mg/ml)</text>
<rect x="675.50" y="390.60" width="4.4" height="4.4" fill="#000"/>
<rect x="713.30" y="392.50" width="4.4" height="4.4" fill="#000"/>
<rect x="721.80" y="384.60" width="4.4" height="4.4" fill="#000"/>
<polygon points="753.70,399.00 754.29,400.29 755.70,400.45 754.65,401.41 754.93,402.80 753.70,402.10 752.47,402.80 752.75,401.41 751.70,400.45 753.11,400.29" fill="#111"/>
<text transform="translate(36.0,412) rotate(-90)" font-size="12.25" text-anchor="middle" font-family='"Liberation Sans", sans-serif'>Normalized RFUs (%)</text>
<rect x="826.2" y="42.8" width="97.8" height="467.6" fill="none" stroke="#4a4a4a" stroke-width="1.6"/>
<text x="841.00" y="67.40" font-size="12.2" text-anchor="start" font-weight="bold" fill="#000" font-family='"Liberation Sans", sans-serif' >Lidocaine</text>
<line x1="845.20" y1="80.90" x2="859.70" y2="80.90" stroke="#000" stroke-width="1.1"/>
<rect x="848.88" y="77.39" width="7.03" height="7.03" fill="#000"/>
<text x="868.50" y="84.70" font-size="11.5" text-anchor="start" font-weight="normal" fill="#000" font-family='"Liberation Sans", sans-serif' >0.8%</text>
<line x1="845.20" y1="99.60" x2="859.70" y2="99.60" stroke="#000" stroke-width="1.1"/>
<circle cx="852.40" cy="99.60" r="3.70" fill="#000"/>
<text x="868.50" y="103.40" font-size="11.5" text-anchor="start" font-weight="normal" fill="#000" font-family='"Liberation Sans", sans-serif' >0.5%</text>
<line x1="845.20" y1="118.20" x2="859.70" y2="118.20" stroke="#000" stroke-width="1.1"/>
<path d="M848.69,115.08 L856.11,115.08 L852.40,121.92 Z" fill="#000"/>
<text x="868.50" y="122.00" font-size="11.5" text-anchor="start" font-weight="normal" fill="#000" font-family='"Liberation Sans", sans-serif' >0.25%</text>
<line x1="845.20" y1="137.40" x2="859.70" y2="137.40" stroke="#000" stroke-width="1.1"/>
<path d="M852.40,133.60 L856.20,137.40 L852.40,141.20 L848.60,137.40 Z" fill="#000"/>
<text x="868.50" y="141.20" font-size="11.5" text-anchor="start" font-weight="normal" fill="#000" font-family='"Liberation Sans", sans-serif' >0.125%</text>
<text x="839.60" y="173.70" font-size="12.45" text-anchor="start" font-weight="bold" fill="#000" font-family='"Liberation Sans", sans-serif' >Bupivacaine</text>
<text x="839.60" y="188.60" font-size="12.45" text-anchor="start" font-weight="bold" fill="#000" font-family='"Liberation Sans", sans-serif' >Ropivacaine</text>
<line x1="843.60" y1="209.80" x2="859.10" y2="209.80" stroke="#000" stroke-width="1.1"/>
<rect x="847.78" y="206.29" width="7.03" height="7.03" fill="#000"/>
<text x="867.50" y="213.60" font-size="11.5" text-anchor="start" font-weight="normal" fill="#000" font-family='"Liberation Sans", sans-serif' >0.25%</text>
<line x1="843.60" y1="228.90" x2="859.10" y2="228.90" stroke="#000" stroke-width="1.1"/>
<circle cx="851.30" cy="228.90" r="3.70" fill="#000"/>
<text x="867.50" y="232.70" font-size="11.5" text-anchor="start" font-weight="normal" fill="#000" font-family='"Liberation Sans", sans-serif' >0.125%</text>
<line x1="843.60" y1="247.80" x2="859.10" y2="247.80" stroke="#000" stroke-width="1.1"/>
<path d="M847.59,244.68 L855.00,244.68 L851.30,251.52 Z" fill="#000"/>
<text x="867.50" y="251.60" font-size="11.5" text-anchor="start" font-weight="normal" fill="#000" font-family='"Liberation Sans", sans-serif' >0.0625%</text>
<line x1="843.60" y1="266.80" x2="859.10" y2="266.80" stroke="#000" stroke-width="1.1"/>
<path d="M851.30,263.00 L855.10,266.80 L851.30,270.60 L847.50,266.80 Z" fill="#000"/>
<text x="867.50" y="270.60" font-size="11.5" text-anchor="start" font-weight="normal" fill="#000" font-family='"Liberation Sans", sans-serif' >0.032%</text>
<text x="846.10" y="359.70" font-size="12.2" text-anchor="start" font-weight="bold" fill="#000" font-family='"Liberation Sans", sans-serif' >Timeline</text>
<rect x="847.4" y="371.20" width="14" height="6" fill="#000000" stroke="#000" stroke-width="1.6"/>
<text x="871.20" y="378.10" font-size="11.5" text-anchor="start" font-weight="normal" fill="#000" font-family='"Liberation Sans", sans-serif' >1.5hrs</text>
<rect x="847.4" y="391.30" width="14" height="6" fill="#a09fa4" stroke="#000" stroke-width="1.6"/>
<text x="871.20" y="398.20" font-size="11.5" text-anchor="start" font-weight="normal" fill="#000" font-family='"Liberation Sans", sans-serif' >3hrs</text>
<rect x="847.4" y="411.20" width="14" height="6" fill="#7b7b7b" stroke="#000" stroke-width="1.6"/>
<text x="871.20" y="418.10" font-size="11.5" text-anchor="start" font-weight="normal" fill="#000" font-family='"Liberation Sans", sans-serif' >6hrs</text>
<rect x="847.4" y="430.50" width="14" height="6" fill="#d6d6d6" stroke="#000" stroke-width="1.6"/>
<text x="871.20" y="437.40" font-size="11.5" text-anchor="start" font-weight="normal" fill="#000" font-family='"Liberation Sans", sans-serif' >12hrs</text>
<rect x="843.7" y="466.6" width="6.5" height="6.1" fill="#000"/>
<text x="853.90" y="472.70" font-size="12.6" text-anchor="start" font-weight="normal" fill="#000" font-family='"Liberation Serif", serif' >- p≤ 0.05</text>
<text x="843.40" y="488.00" font-size="12.6" text-anchor="start" font-weight="normal" fill="#000" font-family='"Liberation Serif", serif' >* - p≤ 0.0001</text>
</svg>
</body></html>
